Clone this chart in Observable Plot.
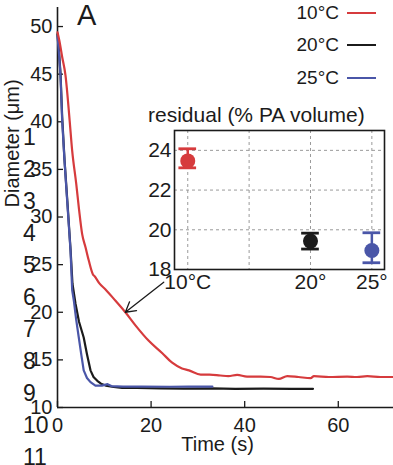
<!DOCTYPE html>
<html><head><meta charset="utf-8">
<script src="https://cdn.jsdelivr.net/npm/d3@7"></script>
<script src="https://cdn.jsdelivr.net/npm/@observablehq/plot@0.6"></script>
<style>
body{margin:0;background:#fff;font-family:"Liberation Sans",Arial,Helvetica,sans-serif;color:#1b1b1b;}
#wrap{position:relative;width:393px;height:465px;overflow:hidden;}
#wrap > *{position:absolute;}
.leg{font-size:19px;line-height:20px;text-align:right;width:100px;}
.legline{height:2px;width:29px;}
.ln{font-size:23px;line-height:32px;left:23px;}
</style></head><body><div id="wrap"></div>
<script>
// ---- data ----
const series = ["10°C", "20°C", "25°C"];
const colors = ["#d63b3d", "#1b1b1b", "#4a56a8"];

const t10 = [0, 0.4, 1.0, 1.7, 2.6, 3.13, 4.0, 4.6, 5.27, 6.0, 6.7, 7.55, 7.98, 9.0, 10.26, 12.4, 14.5, 16.7, 19.5, 22.4, 24.5, 26.6, 28.1, 30.6, 32.5, 34.8, 36.5, 38.4, 40.5, 43.4, 45.5, 47.3, 49.1, 51.5, 54.1, 54.8, 58.0, 61.9, 64.0, 66.2, 69.0, 71.8];
const d10 = [49.4, 48.5, 46.8, 44.9, 40.1, 37.0, 33.5, 30.8, 28.2, 26.8, 25.4, 24.0, 23.75, 23.0, 22.4, 21.2, 20.0, 18.6, 17.0, 15.7, 14.7, 14.1, 13.9, 13.45, 13.45, 13.36, 13.3, 13.43, 13.25, 13.25, 13.2, 13.0, 13.3, 13.2, 13.08, 13.3, 13.2, 13.25, 13.2, 13.3, 13.2, 13.2];

const t20 = [0, 0.3, 0.65, 1.0, 1.5, 2.1, 2.8, 3.2, 3.85, 4.6, 5.6, 6.3, 7.05, 7.7, 8.5, 9.3, 10.3, 12.0, 13.8, 17, 22, 27, 33, 38, 44, 50, 54.6];
const d20 = [49.2, 47.5, 45.0, 40.5, 36.0, 31.7, 26.5, 23.0, 20.9, 19.0, 17.35, 15.6, 13.9, 13.2, 12.8, 12.5, 12.3, 12.15, 12.07, 12.05, 12.0, 11.98, 12.0, 11.96, 11.98, 11.96, 11.96];

const t25 = [0, 0.3, 0.64, 1.0, 1.5, 2.07, 2.78, 3.14, 3.5, 4.0, 4.55, 5.1, 5.6, 6.3, 7.05, 8.1, 9.5, 10.7, 11.5, 14, 18, 24, 28, 33.1];
const d25 = [49.0, 47.3, 44.9, 40.1, 35.9, 31.7, 26.5, 22.3, 21.2, 19.2, 17.35, 15.5, 13.9, 13.1, 12.66, 12.3, 12.3, 12.45, 12.25, 12.2, 12.2, 12.18, 12.2, 12.2];

const yTicks = [10, 15, 20, 25, 30, 35, 40, 45, 50];
const xTicks = [0, 20, 40, 60];

// arrow annotation (data units): from inset toward the 10°C curve
const arrowFrom = {t: 22.7, d: 23.16};
const arrowTo = {t: 14.5, d: 20.0};

// inset: residual (% PA volume)
const temps = [10, 20, 25];
const insetLabels = ["10°C", "20°", "25°"];
const residMean = [23.47, 19.43, 18.96];
const residLo = [23.12, 19.03, 18.34];
const residHi = [24.08, 19.83, 19.85];
const insetYTicks = [18, 20, 22, 24];
const insetGridX = [10, 15, 20, 25];
const insetGridY = [20, 22, 24];

const lineNumbers = ["1","2","3","4","5","6","7","8","9","10","11"];

// ---- build ----
const font = '"Liberation Sans", Arial, Helvetica, sans-serif';
const rows = s => {
  const i = series.indexOf(s);
  const T = [t10, t20, t25][i], D = [d10, d20, d25][i];
  return T.map((t, j) => ({series: s, t, d: D[j]}));
};
const wrap = document.getElementById("wrap");

const main = Plot.plot({
  width: 393, height: 465,
  marginLeft: 57, marginRight: 0, marginTop: 7, marginBottom: 58,
  style: {fontSize: "20px", fontFamily: font, background: "transparent", color: "#1b1b1b"},
  x: {domain: [0, 71.8]},
  y: {domain: [10, 52]},
  color: {domain: series, range: colors},
  marks: [
    Plot.axisY({ticks: yTicks, tickSize: -6, tickPadding: 11, label: null, strokeWidth: 1.3, fontSize: 20, tickFormat: d3.format("d")}),
    Plot.axisX({ticks: xTicks, tickSize: -6, tickPadding: 16, label: null, strokeWidth: 1.3, fontSize: 20, tickFormat: d3.format("d")}),
    Plot.ruleX([0], {stroke: "#1b1b1b", strokeWidth: 1.6}),
    Plot.ruleY([10], {stroke: "#1b1b1b", strokeWidth: 1.6}),
    Plot.line(rows("20°C"), {x: "t", y: "d", stroke: "series", strokeWidth: 2.2}),
    Plot.line(rows("25°C"), {x: "t", y: "d", stroke: "series", strokeWidth: 2.2}),
    Plot.line(rows("10°C"), {x: "t", y: "d", stroke: "series", strokeWidth: 2.2, curve: "monotone-x"}),
    Plot.arrow([{from: arrowFrom, to: arrowTo}], {
      x1: d => d.from.t, y1: d => d.from.d, x2: d => d.to.t, y2: d => d.to.d,
      stroke: "#1b1b1b", strokeWidth: 1.3, headLength: 13
    }),
    Plot.text(["Diameter (μm)"], {text: d => d, frameAnchor: "left", rotate: -90, dx: -45, fontSize: 20}),
    Plot.text(["Time (s)"], {text: d => d, frameAnchor: "bottom", dx: -8, dy: 43, fontSize: 20})
  ]
});
main.style.left = "0px"; main.style.top = "0px";
wrap.appendChild(main);

const resid = temps.map((t, i) => ({series: series[i], temp: t, mean: residMean[i], lo: residLo[i], hi: residHi[i]}));
const inset = Plot.plot({
  width: 263, height: 200,
  marginLeft: 44, marginRight: 9, marginTop: 35, marginBottom: 26,
  style: {fontSize: "21px", fontFamily: font, background: "transparent", color: "#1b1b1b"},
  x: {domain: [8.92, 26.03]},
  y: {domain: [18, 25]},
  color: {domain: series, range: colors},
  marks: [
    Plot.gridX(insetGridX, {stroke: "#9a9a9a", strokeOpacity: 1, strokeDasharray: "3,3", strokeWidth: 1}),
    Plot.gridY(insetGridY, {stroke: "#9a9a9a", strokeOpacity: 1, strokeDasharray: "3,3", strokeWidth: 1}),
    Plot.frame({stroke: "#1b1b1b", strokeWidth: 1.6}),
    Plot.ruleX(resid, {x: "temp", y1: "lo", y2: "hi", stroke: "series", strokeWidth: 2.5}),
    Plot.ruleY(resid, {y: "lo", x1: d => d.temp - 0.72, x2: d => d.temp + 0.72, stroke: "series", strokeWidth: 2.8}),
    Plot.ruleY(resid, {y: "hi", x1: d => d.temp - 0.72, x2: d => d.temp + 0.72, stroke: "series", strokeWidth: 2.8}),
    Plot.dot(resid, {x: "temp", y: "mean", r: 7.5, fill: "series", stroke: "none"}),
    Plot.axisY({ticks: insetYTicks, tickSize: 0, tickPadding: 3, label: null, fontSize: 21, tickFormat: d3.format("d")}),
    Plot.axisX({ticks: temps, tickSize: 0, tickPadding: 5, label: null, fontSize: 21,
      tickFormat: d => insetLabels[temps.indexOf(d)]})
  ]
});
inset.style.left = "130px"; inset.style.top = "95px";
wrap.appendChild(inset);

// inset title
const title = document.createElement("div");
title.textContent = "residual (% PA volume)";
Object.assign(title.style, {left: "148px", top: "104px", fontSize: "21px", lineHeight: "1", whiteSpace: "nowrap"});
wrap.appendChild(title);

// panel letter
const letter = document.createElement("div");
letter.textContent = "A";
Object.assign(letter.style, {left: "77px", top: "1px", fontSize: "29px", lineHeight: "1"});
wrap.appendChild(letter);

// legend
series.forEach((s, i) => {
  const cy = [13, 44.5, 77.5][i];
  const tx = document.createElement("div");
  tx.className = "leg"; tx.textContent = s;
  Object.assign(tx.style, {left: (339 - 100) + "px", top: (cy - 10) + "px"});
  wrap.appendChild(tx);
  const ln = document.createElement("div");
  ln.className = "legline";
  Object.assign(ln.style, {left: "347px", top: (cy - 1) + "px", background: colors[i]});
  wrap.appendChild(ln);
});

// document line numbers overlaid on the left margin
lineNumbers.forEach((n, i) => {
  const el = document.createElement("div");
  el.className = "ln"; el.textContent = n;
  el.style.top = (121 + i * 32) + "px";
  wrap.appendChild(el);
});
</script></body></html>
